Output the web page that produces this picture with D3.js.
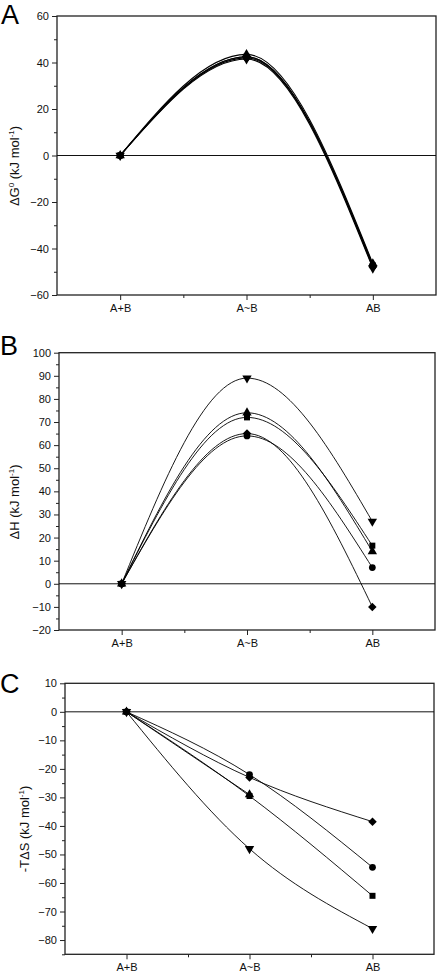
<!DOCTYPE html>
<html><head><meta charset="utf-8">
<script src="https://cdn.jsdelivr.net/npm/d3@7"></script>
<style>body{margin:0;background:#fff}svg{display:block}</style>
</head><body>
<script>
const categories = ["A+B", "A~B", "AB"];
const markers = ["circle", "square", "triangleUp", "triangleDown", "diamond"];

// ΔG0 (kJ/mol)
const dG_circle = [0, 42, -47];
const dG_square = [0, 42.5, -47.5];
const dG_triUp = [0, 43.5, -46.5];
const dG_triDown = [0, 41.5, -48.5];
const dG_diamond = [0, 42.5, -48];

// ΔH (kJ/mol)
const dH_circle = [0, 64, 7];
const dH_square = [0, 72, 16.5];
const dH_triUp = [0, 74, 14];
const dH_triDown = [0, 89, 27];
const dH_diamond = [0, 65, -10];

// -TΔS (kJ/mol); the up-triangle point at AB is hidden behind the square in the figure
const TS_circle = [0, -22, -54.5];
const TS_square = [0, -29.5, -64.5];
const TS_triUp = [0, -29, null];
const TS_triDown = [0, -48, -76];
const TS_diamond = [0, -23, -38.5];

const yTicksA = [-60, -40, -20, 0, 20, 40, 60];
const yTicksB = [-20, -10, 0, 10, 20, 30, 40, 50, 60, 70, 80, 90, 100];
const yTicksC = [-80, -70, -60, -50, -40, -30, -20, -10, 0, 10];

const W = 440, H = 973;
const svg = d3.select("body").append("svg").attr("width", W).attr("height", H);

const diamondType = { draw(ctx, size) { const r = Math.sqrt(size / 2); ctx.moveTo(0, -r); ctx.lineTo(r, 0); ctx.lineTo(0, r); ctx.lineTo(-r, 0); ctx.closePath(); } };
function symPath(m) {
  if (m === "circle") return d3.symbol(d3.symbolCircle, 36)();
  if (m === "square") return d3.symbol(d3.symbolSquare, 36)();
  if (m === "triangleUp" || m === "triangleDown") return d3.symbol(d3.symbolTriangle, 38)();
  return d3.symbol(diamondType, 36)();
}

const FONT = "'Liberation Sans', Arial, sans-serif";

function panel(cfg) {
  const g = svg.append("g");
  const x = d3.scaleLinear().domain([0.5, 3.5]).range([cfg.left, cfg.right]);
  const y = d3.scaleLinear().domain(cfg.domain).range([cfg.bottom, cfg.top]);

  const minor = d3.range(cfg.domain[0], cfg.domain[1] + 0.001, cfg.minor).filter(v => !cfg.ticks.includes(v));
  g.append("g").attr("transform", `translate(${cfg.left},0)`)
    .call(d3.axisLeft(y).tickValues(minor).tickSize(3).tickFormat("").tickSizeOuter(0))
    .call(a => a.select(".domain").remove());
  g.append("g").attr("transform", `translate(${cfg.left},0)`)
    .call(d3.axisLeft(y).tickValues(cfg.ticks).tickSize(5).tickPadding(3).tickSizeOuter(0))
    .call(a => a.select(".domain").remove())
    .call(a => a.selectAll("text").attr("font-family", FONT).attr("font-size", 11).attr("fill", "#111"));
  g.append("g").attr("transform", `translate(0,${cfg.bottom})`)
    .call(d3.axisBottom(x).tickValues([1.5, 2.5]).tickSize(3).tickFormat("").tickSizeOuter(0))
    .call(a => a.select(".domain").remove());
  g.append("g").attr("transform", `translate(0,${cfg.bottom})`)
    .call(d3.axisBottom(x).tickValues([1, 2, 3]).tickSize(5).tickPadding(4).tickFormat(d => categories[d - 1]).tickSizeOuter(0))
    .call(a => a.select(".domain").remove())
    .call(a => a.selectAll("text").attr("font-family", FONT).attr("font-size", 11).attr("fill", "#111"));
  g.selectAll(".tick line").attr("stroke", "#222");

  g.append("rect").attr("x", cfg.left).attr("y", cfg.top)
    .attr("width", cfg.right - cfg.left).attr("height", cfg.bottom - cfg.top)
    .attr("fill", "none").attr("stroke", "#222").attr("stroke-width", 1.3);
  g.append("line").attr("x1", cfg.left).attr("x2", cfg.right).attr("y1", y(0)).attr("y2", y(0))
    .attr("stroke", "#111").attr("stroke-width", 1);

  const line = d3.line().defined(d => d !== null).x((d, i) => x(i + 1)).y(d => y(d)).curve(d3.curveMonotoneX);
  cfg.series.forEach(s => {
    g.append("path").attr("d", line(s.values)).attr("fill", "none").attr("stroke", "#000").attr("stroke-width", cfg.lw || 0.9);
  });
  cfg.series.forEach(s => {
    s.values.forEach((v, i) => {
      if (v === null) return;
      g.append("path").attr("d", symPath(s.marker))
        .attr("transform", `translate(${x(i + 1)},${y(v)})` + (s.marker === "triangleDown" ? " rotate(180)" : ""))
        .attr("fill", "#000");
    });
  });

  svg.append("text").attr("x", cfg.letterX).attr("y", cfg.letterY).text(cfg.letter)
    .attr("font-family", FONT).attr("font-size", 27).attr("fill", "#000");

  const t = svg.append("text").attr("transform", `translate(${cfg.titleX},${cfg.titleY}) rotate(-90)`)
    .attr("text-anchor", "middle").attr("font-family", FONT).attr("font-size", 13).attr("fill", "#111");
  cfg.title.forEach(p => {
    const ts = t.append("tspan").text(p.t);
    if (p.sup) ts.attr("font-size", 8).attr("dy", -5);
    else if (p.after) ts.attr("dy", 5);
  });
}

panel({
  left: 57, right: 436, top: 16, bottom: 295, domain: [-60, 60], ticks: yTicksA, minor: 10, lw: 1.1,
  letter: "A", letterX: 1, letterY: 24, titleX: 19, titleY: 166,
  title: [{ t: "ΔG" }, { t: "0", sup: true }, { t: " (kJ mol", after: true }, { t: "-1", sup: true }, { t: ")", after: true }],
  series: [
    { marker: "circle", values: dG_circle }, { marker: "triangleUp", values: dG_triUp },
    { marker: "triangleDown", values: dG_triDown }, { marker: "diamond", values: dG_diamond },
    { marker: "square", values: dG_square }]
});
panel({
  left: 59, right: 435, top: 352.7, bottom: 630, domain: [-20, 100], ticks: yTicksB, minor: 5,
  letter: "B", letterX: 0, letterY: 355, titleX: 19, titleY: 502,
  title: [{ t: "ΔH (kJ mol" }, { t: "-1", sup: true }, { t: ")", after: true }],
  series: [
    { marker: "circle", values: dH_circle }, { marker: "triangleUp", values: dH_triUp },
    { marker: "triangleDown", values: dH_triDown }, { marker: "diamond", values: dH_diamond },
    { marker: "square", values: dH_square }]
});
panel({
  left: 65, right: 434, top: 683.3, bottom: 954.3, domain: [-85, 10], ticks: yTicksC, minor: 5,
  letter: "C", letterX: 0, letterY: 693, titleX: 29, titleY: 829,
  title: [{ t: "-TΔS (kJ mol" }, { t: "-1", sup: true }, { t: ")", after: true }],
  series: [
    { marker: "circle", values: TS_circle }, { marker: "triangleUp", values: TS_triUp },
    { marker: "triangleDown", values: TS_triDown }, { marker: "diamond", values: TS_diamond },
    { marker: "square", values: TS_square }]
});
</script>
</body></html>
